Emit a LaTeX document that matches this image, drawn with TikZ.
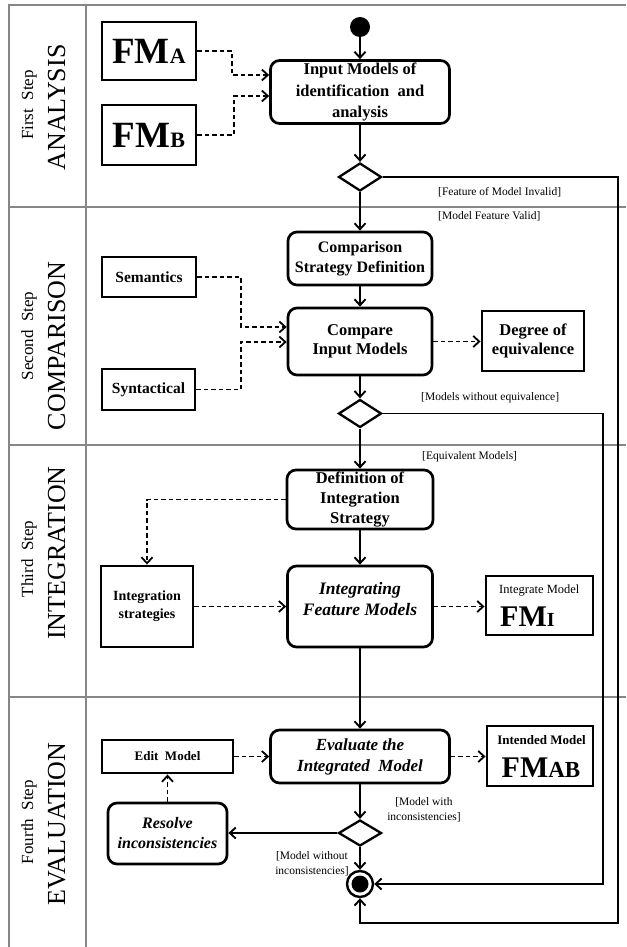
\documentclass[tikz,border=0pt]{standalone}
\usepackage{fontspec}
\setmainfont{Liberation Serif}
\usetikzlibrary{arrows.meta,shapes.geometric,calc}
\newcommand\fsz[2]{\fontsize{#1}{#2}\selectfont}
\definecolor{framegray}{RGB}{135,135,135}
\begin{document}
\begin{tikzpicture}[x=1pt,y=-1pt,
 lane/.style={draw=framegray,line width=2.6pt},
 sbox/.style={draw,line width=2.9pt,inner sep=0pt,align=center},
 rbox/.style={draw,line width=2.7pt,rounded corners=9pt,inner sep=0pt,align=center},
 dec/.style={draw,diamond,line width=2.3pt,inner sep=0pt,minimum width=43pt,minimum height=28pt,aspect=1.5},
 flow/.style={line width=1.9pt,-{Straight Barb[length=6pt,width=11pt]}},
 dflow/.style={flow,line width=1.8pt,dash pattern=on 4.5pt off 3pt},
 guard/.style={font=\fsz{11.5}{15},align=center,inner sep=0pt},
 steplbl/.style={rotate=90,anchor=base,font=\fsz{17}{20},inner sep=0pt},
 phaselbl/.style={rotate=90,anchor=base,font=\fsz{26}{30},inner sep=0pt},
]
\useasboundingbox (0,0) rectangle (626,947);
\fill[white] (0,0) rectangle (626,947);
% frame
\draw[lane] (9,947) -- (9,5) -- (626,5);
\draw[lane] (86,5) -- (86,947);
\draw[lane] (9,207) -- (626,207);
\draw[lane] (9,445) -- (626,445);
\draw[lane] (9,697) -- (626,697);
% lane labels
\node[steplbl] (s1) at (33,105) {First\hspace{0.5em}Step};
\node[phaselbl] (p1) at (65,107.5) {ANALYSIS};
\node[steplbl] (s2) at (33,336) {Second\hspace{0.5em}Step};
\node[phaselbl] (p2) at (65,346) {COMPARISON};
\node[steplbl] (s3) at (33,559) {Third\hspace{0.5em}Step};
\node[phaselbl] (p3) at (65,553) {INTEGRATION};
\node[steplbl] (s4) at (33,822) {Fourth\hspace{0.5em}Step};
\node[phaselbl] (p4) at (65,824) {EVALUATION};
% lane 1
\node[sbox,minimum width=94pt,minimum height=58pt] (fmA) at (149,51) {\bfseries\fsz{37}{40}FM\fsz{22}{24}A};
\node[sbox,minimum width=94pt,minimum height=60pt] (fmB) at (149,135) {\bfseries\fsz{37}{40}FM\fsz{22}{24}B};
\node[circle,fill,inner sep=0pt,minimum size=20pt] (start) at (360,27) {};
\node[rbox,minimum width=179pt,minimum height=63pt,font=\bfseries\fsz{16.5}{21.5}] (input) at (360,92) {Input Models of\\identification\ \ and\\analysis};
\node[dec] (d1) at (360,177) {};
% lane 2
\node[rbox,minimum width=144pt,minimum height=53pt,font=\bfseries\fsz{16}{20}] (csd) at (360,258.5) {Comparison\\Strategy Definition};
\node[rbox,minimum width=144pt,minimum height=67pt,font=\bfseries\fsz{16.5}{19}] (cmp) at (360,341.5) {Compare\\Input Models};
\node[sbox,minimum width=102pt,minimum height=60pt,font=\bfseries\fsz{16.5}{19}] (deg) at (533,341) {Degree of\\equivalence};
\node[sbox,minimum width=94pt,minimum height=40pt,font=\bfseries\fsz{15.5}{18}] (sem) at (149,277) {Semantics};
\node[sbox,minimum width=93pt,minimum height=41pt,font=\bfseries\fsz{15.5}{18}] (syn) at (148.5,389.5) {Syntactical};
\node[dec] (d2) at (360,413.5) {};
% lane 3
\node[rbox,minimum width=146pt,minimum height=59pt,font=\bfseries\fsz{16.5}{20}] (dis) at (360,499.5) {Definition of\\Integration\\Strategy};
\node[rbox,minimum width=145pt,minimum height=81pt] (ifm) at (360,606.5) {};
\node[font=\bfseries\itshape\fsz{17.5}{21},align=center,inner sep=0pt] (ifmT) at (360,599) {Integrating\\Feature Models};
\node[sbox,minimum width=92pt,minimum height=81pt,font=\bfseries\fsz{14}{18}] (ist) at (147,606.5) {Integration\\strategies};
\node[sbox,minimum width=107pt,minimum height=59pt] (imod) at (539.5,605.5) {};
\node[anchor=base west,inner sep=0pt,font=\fsz{12.5}{15}] (imodT) at (499,593) {Integrate Model};
\node[anchor=base west,inner sep=0pt] (imodF) at (500,626) {\bfseries\fsz{30}{32}FM\fsz{20}{22}I};
% lane 4
\node[rbox,minimum width=179pt,minimum height=53pt,font=\bfseries\itshape\fsz{17}{21}] (eva) at (360,756.5) {Evaluate the\\Integrated\ \ Model};
\node[sbox,minimum width=131pt,minimum height=33pt,font=\bfseries\fsz{13}{15}] (edit) at (167.5,756.5) {Edit\ \ Model};
\node[sbox,minimum width=106pt,minimum height=60pt] (intd) at (540,756) {};
\node[anchor=base,inner sep=0pt,font=\bfseries\fsz{13}{15}] (intdT) at (541.5,744) {Intended Model};
\node[anchor=base,inner sep=0pt] (intdF) at (541,777) {\bfseries\fsz{30}{32}FM\fsz{23}{25}AB};
\node[dec,minimum width=43pt,minimum height=26pt] (d3) at (360,833) {};
\node[rbox,minimum width=119pt,minimum height=61pt,font=\bfseries\itshape\fsz{16}{20}] (res) at (167.5,833.5) {Resolve\\inconsistencies};
\node[circle,draw,line width=2.4pt,minimum size=26pt,inner sep=0pt,
  path picture={\fill (path picture bounding box.center) circle (8.5pt);}] (fin) at (360,884) {};
% guards
\node[guard,anchor=west] (g1) at (438,192) {[Feature of Model Invalid]};
\node[guard,anchor=west] (g2) at (438,216) {[Model Feature Valid]};
\node[guard,anchor=west] (g3) at (421,398) {[Models without equivalence]};
\node[guard,anchor=west] (g4) at (422,457) {[Equivalent Models]};
\node[guard] (g5) at (424,810) {[Model with\\inconsistencies]};
\node[guard] (g6) at (312,864) {[Model without\\inconsistencies]};
% connectors
\draw[flow] (start) -- (input);
\draw[flow] (input) -- (d1);
\coordinate (aj) at (232,75);
\draw[dflow] (fmA.east) -| (aj) -- (aj -| input.west);
\coordinate (bj) at (234,96);
\draw[dflow] (fmB.east) -| (bj) -- (bj -| input.west);
\coordinate (c1) at (618,923);
\draw[flow] (d1.east) -| (c1) -| (fin.south);
\draw[flow] (d1) -- (csd);
\draw[flow] (csd) -- (cmp);
\coordinate (sj) at (241,327);
\draw[dflow] (sem.east) -| (sj) -- (sj -| cmp.west);
\coordinate (tj) at (241,342);
\draw[dflow] (syn.east) -| (tj) -- (tj -| cmp.west);
\draw[dflow] (cmp.east) -- (cmp.east -| deg.west);
\draw[flow] (cmp) -- (d2);
\coordinate (c2) at (603,884);
\draw[flow] (d2.east) -| (c2) -- (fin.east);
\draw[flow] (d2) -- (dis);
\draw[dflow] (dis.west) -| (ist.north);
\draw[dflow] (ist.east) -- (ist.east -| ifm.west);
\draw[flow] (dis) -- (ifm);
\draw[dflow] (ifm.east) -- (ifm.east -| imod.west);
\draw[flow] (ifm) -- (eva);
\draw[dflow] (edit.east) -- (edit.east -| eva.west);
\draw[dflow] (eva.east) -- (eva.east -| intd.west);
\draw[flow] (eva) -- (d3);
\draw[flow] (d3.west) -- (d3.west -| res.east);
\draw[dflow] (res.north) -- (res.north |- edit.south);
\draw[flow] (d3) -- (fin);
\end{tikzpicture}
\end{document}
